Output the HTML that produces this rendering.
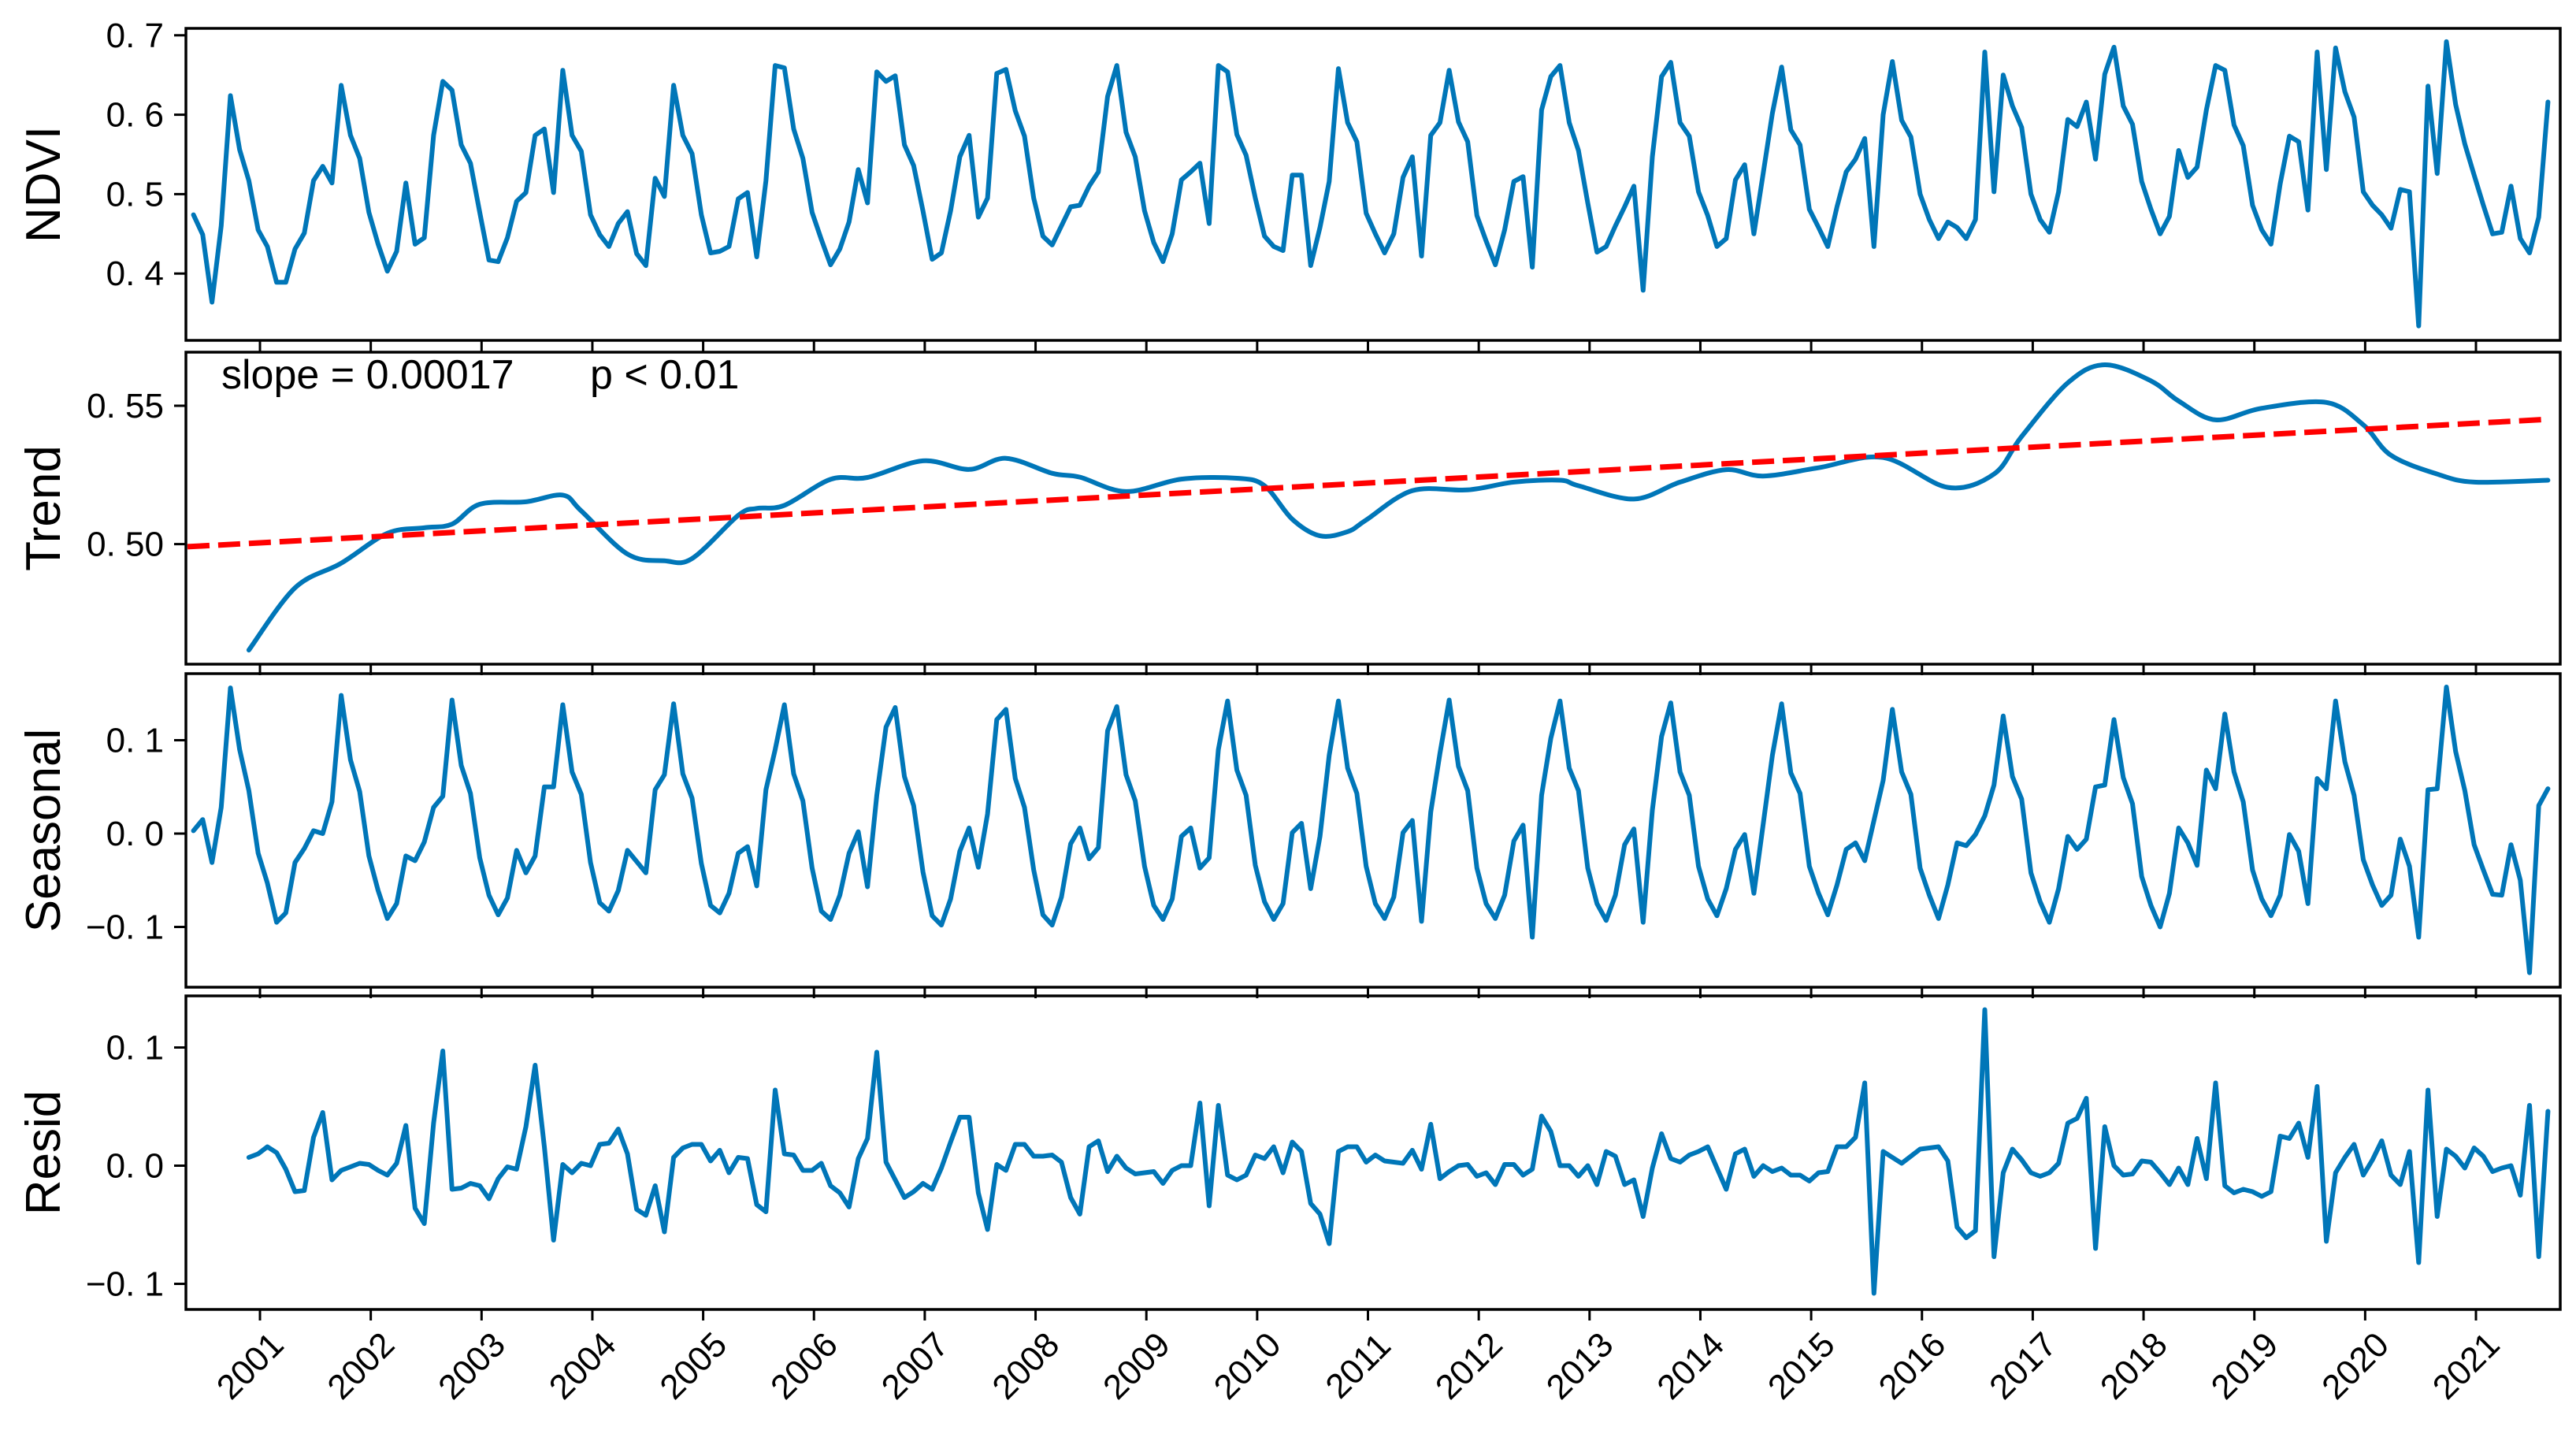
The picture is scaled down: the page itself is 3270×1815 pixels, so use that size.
<!DOCTYPE html>
<html><head><meta charset="utf-8"><style>
html,body{margin:0;padding:0;background:#fff;}
svg{display:block;font-family:"Liberation Sans",Arial,sans-serif;}
</style></head><body>
<svg id="chart" width="3270" height="1815" viewBox="0 0 3270 1815" xmlns="http://www.w3.org/2000/svg">
<rect x="0" y="0" width="3270" height="1815" fill="#fff"/>
<g id="layer"></g>
</svg>
<script>
// ---- data (monthly, starting ~Jun 2000) ----
const startYear = 2000.40;
const ndviValues = [
.474,.449,.364,.460,.624,.556,.517,.455,.434,.389,.389,.431,
.451,.517,.535,.514,.637,.574,.545,.477,.437,.403,.428,.514,
.437,.445,.574,.642,.631,.562,.539,.477,.417,.415,.445,.491,
.502,.574,.582,.502,.656,.574,.554,.474,.449,.434,.463,.478,
.425,.410,.520,.497,.637,.574,.551,.474,.426,.428,.434,.494,
.502,.421,.517,.662,.659,.582,.545,.477,.443,.411,.431,.465,
.531,.489,.654,.642,.649,.562,.536,.479,.418,.426,.479,.547,
.574,.471,.495,.652,.657,.605,.573,.495,.447,.436,.460,.484,
.486,.510,.528,.623,.662,.578,.547,.479,.439,.415,.450,.518,
.528,.539,.463,.662,.654,.575,.549,.495,.447,.434,.429,.524,
.524,.410,.458,.516,.658,.590,.566,.476,.450,.426,.450,.521,
.547,.422,.574,.590,.656,.591,.566,.473,.441,.411,.455,.516,
.522,.408,.606,.648,.662,.590,.555,.489,.427,.434,.460,.484,
.510,.379,.547,.648,.666,.590,.573,.503,.473,.434,.444,.518,
.537,.450,.526,.602,.660,.581,.562,.481,.458,.434,.484,.528,
.544,.570,.434,.600,.667,.593,.572,.500,.468,.444,.465,.458,
.444,.468,.679,.503,.650,.611,.584,.500,.468,.452,.503,.594,
.585,.616,.544,.651,.685,.611,.588,.516,.481,.450,.472,.555,
.521,.534,.606,.662,.656,.587,.561,.486,.455,.437,.513,.573,
.566,.480,.679,.531,.684,.629,.597,.503,.486,.474,.457,.506,
.503,.334,.636,.526,.692,.613,.563,.524,.486,.450,.452,.510,
.444,.426,.471,.616];
const trendIdx = [6,11,16,21,25,28,31,36,40,42,47,51,54,59,61,64,69,73,79,84,88,93,96,101,107,113,116,119,122,125,127,132,138,143,148,150,156,161,166,170,176,183,190,195,198,203,207,212,215,219,224,231,235,238,243,247,255];
const trendValues = [.4617,.4842,.4931,.5039,.5059,.5072,.5144,.5153,.5177,.5120,.4964,.4940,.4948,.5104,.5129,.5140,.5234,.5241,.5301,.5270,.5310,.5256,.5242,.5190,.5235,.5238,.5211,.5090,.5030,.5045,.5087,.5193,.5196,.5224,.5231,.5211,.5163,.5224,.5269,.5246,.5276,.5313,.5205,.5253,.5389,.5583,.5648,.5590,.5517,.5449,.5491,.5512,.5431,.5321,.5253,.5224,.5231];
const fitIntercept = 0.4992;   // linear fit value at first month
const fitSlope = 0.00018;      // per month
const seasonalValues = [
.003,.015,-.031,.028,.156,.090,.046,-.021,-.053,-.095,-.085,-.031,
-.016,.003,.000,.034,.148,.079,.045,-.024,-.061,-.091,-.075,-.024,
-.029,-.009,.028,.040,.143,.073,.043,-.026,-.066,-.087,-.069,-.018,
-.042,-.024,.050,.050,.138,.066,.042,-.031,-.074,-.083,-.061,-.018,
-.030,-.042,.047,.063,.139,.064,.038,-.032,-.077,-.085,-.064,-.021,
-.014,-.056,.047,.090,.138,.064,.035,-.037,-.083,-.092,-.066,-.021,
.002,-.057,.041,.114,.135,.061,.030,-.041,-.088,-.098,-.070,-.019,
.006,-.036,.021,.122,.133,.059,.028,-.039,-.087,-.098,-.068,-.011,
.006,-.027,-.015,.110,.136,.063,.035,-.035,-.077,-.092,-.070,-.003,
.006,-.037,-.026,.090,.142,.068,.041,-.034,-.073,-.092,-.075,.001,
.011,-.059,-.003,.084,.142,.070,.043,-.035,-.075,-.091,-.068,.001,
.014,-.094,.023,.086,.143,.072,.046,-.037,-.075,-.091,-.066,-.008,
.009,-.111,.041,.102,.142,.070,.046,-.037,-.075,-.093,-.066,-.012,
.005,-.095,.025,.104,.140,.066,.041,-.035,-.070,-.088,-.059,-.017,
-.001,-.064,.010,.084,.139,.065,.043,-.035,-.064,-.087,-.055,-.017,
-.010,-.029,.014,.057,.133,.066,.042,-.037,-.066,-.091,-.055,-.010,
-.013,-.001,.019,.052,.126,.061,.037,-.042,-.073,-.095,-.059,-.003,
-.017,-.006,.050,.052,.122,.060,.032,-.046,-.077,-.100,-.064,.006,
-.010,-.034,.068,.048,.128,.066,.034,-.039,-.070,-.088,-.066,-.001,
-.019,-.075,.059,.048,.142,.077,.041,-.028,-.055,-.077,-.066,-.006,
-.035,-.111,.047,.048,.157,.088,.046,-.012,-.039,-.065,-.066,-.012,
-.050,-.149,.030,.048];
const residValues = [null,null,null,null,null,null,
.007,.010,.016,.011,-.003,-.022,
-.021,.024,.045,-.012,-.004,-.001,.002,.001,-.004,-.008,.002,.034,
-.036,-.049,.036,.097,-.020,-.019,-.015,-.017,-.028,-.011,-.001,-.003,
.033,.085,.016,-.063,.001,-.006,.002,.000,.018,.019,.031,.010,
-.037,-.042,-.017,-.056,.007,.015,.018,.018,.004,.013,-.006,.007,
.006,-.033,-.039,.064,.010,.009,-.004,-.004,.002,-.017,-.023,-.035,
.006,.023,.096,.003,-.012,-.027,-.022,-.015,-.020,-.002,.020,.041,
.041,-.023,-.054,.001,-.004,.018,.018,.008,.008,.009,.003,-.027,
-.041,.016,.021,-.005,.008,-.002,-.007,-.006,-.005,-.015,-.004,.000,
.000,.053,-.034,.051,-.008,-.012,-.008,.009,.006,.016,-.006,.020,
.012,-.032,-.041,-.066,.012,.016,.016,.003,.009,.004,.003,.002,
.013,-.003,.035,-.011,-.005,.000,.001,-.009,-.006,-.016,.001,.001,
-.008,-.003,.042,.029,.000,.000,-.009,.000,-.016,.012,.008,-.016,
-.012,-.043,-.002,.027,.006,.003,.009,.012,.016,-.002,-.020,.010,
.014,-.009,.000,-.005,-.002,-.008,-.008,-.013,-.006,-.005,.016,.016,
.024,.070,-.108,.012,.007,.002,.008,.014,.015,.016,.004,-.052,
-.061,-.055,.132,-.077,-.006,.014,.005,-.006,-.009,-.006,.002,.036,
.040,.057,-.070,.033,.000,-.008,-.007,.004,.003,-.006,-.016,-.002,
-.016,.023,-.011,.070,-.017,-.023,-.020,-.022,-.026,-.022,.025,.023,
.036,.007,.067,-.064,-.006,.007,.018,-.008,.005,.021,-.008,-.016,
.012,-.082,.064,-.043,.014,.008,-.002,.015,.008,-.005,-.002,.000,
-.025,.051,-.077,.046];
const yearTicks = [2001,2002,2003,2004,2005,2006,2007,2008,2009,2010,2011,2012,2013,2014,2015,2016,2017,2018,2019,2020,2021];
const ndviTicks = [0.4,0.5,0.6,0.7];
const ndviTickLabels = ["0. 4","0. 5","0. 6","0. 7"];
const trendTicks = [0.50,0.55];
const trendTickLabels = ["0. 50","0. 55"];
const seasonalTicks = [-0.1,0.0,0.1];
const seasonalTickLabels = ["\u22120. 1","0. 0","0. 1"];
const residTicks = [-0.1,0.0,0.1];
const residTickLabels = ["\u22120. 1","0. 0","0. 1"];

// ---- layout ----
const NS = "http://www.w3.org/2000/svg";
const layer = document.getElementById('layer');
const LEFT = 236, RIGHT = 3250;
const BLUE = "#0076b8";
function xOfYear(yr){ return 330 + (yr - 2001) * 140.65; }
function xOfIdx(i){ return xOfYear(startYear + i / 12); }
function linScale(v1, p1, v2, p2){ return v => p1 + (v - v1) * (p2 - p1) / (v2 - v1); }
const panels = [
 {name:'ndvi', top:36, bottom:432, y:linScale(0.7,44.8,0.4,347.2), label:'NDVI', ticks:ndviTicks, labels:ndviTickLabels},
 {name:'trend', top:447, bottom:843, y:linScale(0.55,515,0.50,690.6), label:'Trend', ticks:trendTicks, labels:trendTickLabels},
 {name:'seasonal', top:855, bottom:1253, y:linScale(0.1,939.5,-0.1,1176.5), label:'Seasonal', ticks:seasonalTicks, labels:seasonalTickLabels},
 {name:'resid', top:1264, bottom:1662, y:linScale(0.1,1329.5,-0.1,1629.5), label:'Resid', ticks:residTicks, labels:residTickLabels}
];
function mk(tag, attrs){ const e = document.createElementNS(NS, tag); for (const k in attrs) e.setAttribute(k, attrs[k]); return e; }

panels.forEach(p => {
  const g = mk('g', {});
  
  
  layer.appendChild(g);
  const clipId = 'clip-' + p.name;
  const cp = mk('clipPath', {id: clipId});
  cp.appendChild(mk('rect', {x: LEFT, y: p.top, width: RIGHT - LEFT, height: p.bottom - p.top}));
  g.appendChild(cp);
  p.ticks.forEach((t, k) => {
    const yy = p.y(t);
    const tk = mk('line', {x1: LEFT - 15, x2: LEFT, y1: yy, y2: yy, stroke: '#000', 'stroke-width': 3});
    
    
    g.appendChild(tk);
    const tl = mk('text', {x: LEFT - 28, y: yy + 15, 'text-anchor': 'end', 'font-size': 44, fill: '#000'});
    tl.textContent = p.labels[k];
    
    
    g.appendChild(tl);
  });
  yearTicks.forEach(yr => {
    const xx = xOfYear(yr);
    const tk = mk('line', {x1: xx, x2: xx, y1: p.bottom, y2: p.bottom + 14, stroke: '#000', 'stroke-width': 3});
    
    
    g.appendChild(tk);
  });
  const cy = (p.top + p.bottom) / 2;
  const yl = mk('text', {x: 0, y: 0, 'text-anchor': 'middle', 'font-size': 62, fill: '#000', transform: `translate(76 ${cy}) rotate(-90)`});
  yl.textContent = p.label;
  
  
  g.appendChild(yl);
  p.g = g; p.clip = clipId;
});

function linePath(vals, yf){
  let d = '', pen = false;
  vals.forEach((v, i) => {
    if (v === null || v === undefined) { pen = false; return; }
    d += (pen ? 'L' : 'M') + xOfIdx(i).toFixed(1) + ' ' + yf(v).toFixed(1) + ' ';
    pen = true;
  });
  return d;
}
function addSeries(p, d, name){
  const path = mk('path', {d: d, fill: 'none', stroke: BLUE, 'stroke-width': 6, 'stroke-linejoin': 'round', 'stroke-linecap': 'round', 'clip-path': `url(#${p.clip})`});
  
  
  p.g.appendChild(path);
}
addSeries(panels[0], linePath(ndviValues, panels[0].y), 'ndvi-line');
addSeries(panels[2], linePath(seasonalValues, panels[2].y), 'seasonal-line');
addSeries(panels[3], linePath(residValues, panels[3].y), 'resid-line');

(function(){
  const p = panels[1];
  const pts = trendIdx.map((ix, k) => [xOfIdx(ix), p.y(trendValues[k])]);
  let d = 'M' + pts[0][0].toFixed(1) + ' ' + pts[0][1].toFixed(1);
  for (let i = 0; i < pts.length - 1; i++) {
    const p0 = pts[Math.max(0, i - 1)], p1 = pts[i], p2 = pts[i + 1], p3 = pts[Math.min(pts.length - 1, i + 2)];
    const c1 = [p1[0] + (p2[0] - p0[0]) / 6, p1[1] + (p2[1] - p0[1]) / 6];
    const c2 = [p2[0] - (p3[0] - p1[0]) / 6, p2[1] - (p3[1] - p1[1]) / 6];
    d += ` C${c1[0].toFixed(1)} ${c1[1].toFixed(1)} ${c2[0].toFixed(1)} ${c2[1].toFixed(1)} ${p2[0].toFixed(1)} ${p2[1].toFixed(1)}`;
  }
  addSeries(p, d, 'trend-line');
  const n = ndviValues.length - 1;
  const fit = mk('line', {x1: LEFT + 2, y1: p.y(fitIntercept - fitSlope * ((xOfIdx(0) - LEFT) / 11.72)), x2: xOfIdx(n), y2: p.y(fitIntercept + fitSlope * n),
    stroke: '#ff0000', 'stroke-width': 7, 'stroke-dasharray': '28 11', 'clip-path': `url(#${p.clip})`});
  
  
  p.g.appendChild(fit);
  const t1 = mk('text', {x: 281, y: 493, 'font-size': 52, fill: '#000'});
  t1.textContent = 'slope = 0.00017';
  
  
  p.g.appendChild(t1);
  const t2 = mk('text', {x: 749, y: 493, 'font-size': 52, fill: '#000'});
  t2.textContent = 'p < 0.01';
  
  
  p.g.appendChild(t2);
})();

panels.forEach(p => {
  const r = mk('rect', {x: LEFT, y: p.top, width: RIGHT - LEFT, height: p.bottom - p.top, fill: 'none', stroke: '#000', 'stroke-width': 3.5});
  
  
  p.g.appendChild(r);
});

yearTicks.forEach(yr => {
  const xx = xOfYear(yr);
  const t = mk('text', {x: 0, y: 0, 'text-anchor': 'middle', 'font-size': 44, fill: '#000', transform: `translate(${xx - 2} ${1744}) rotate(-45)`});
  t.textContent = String(yr);
  
  
  layer.appendChild(t);
});
</script>
</body></html>
